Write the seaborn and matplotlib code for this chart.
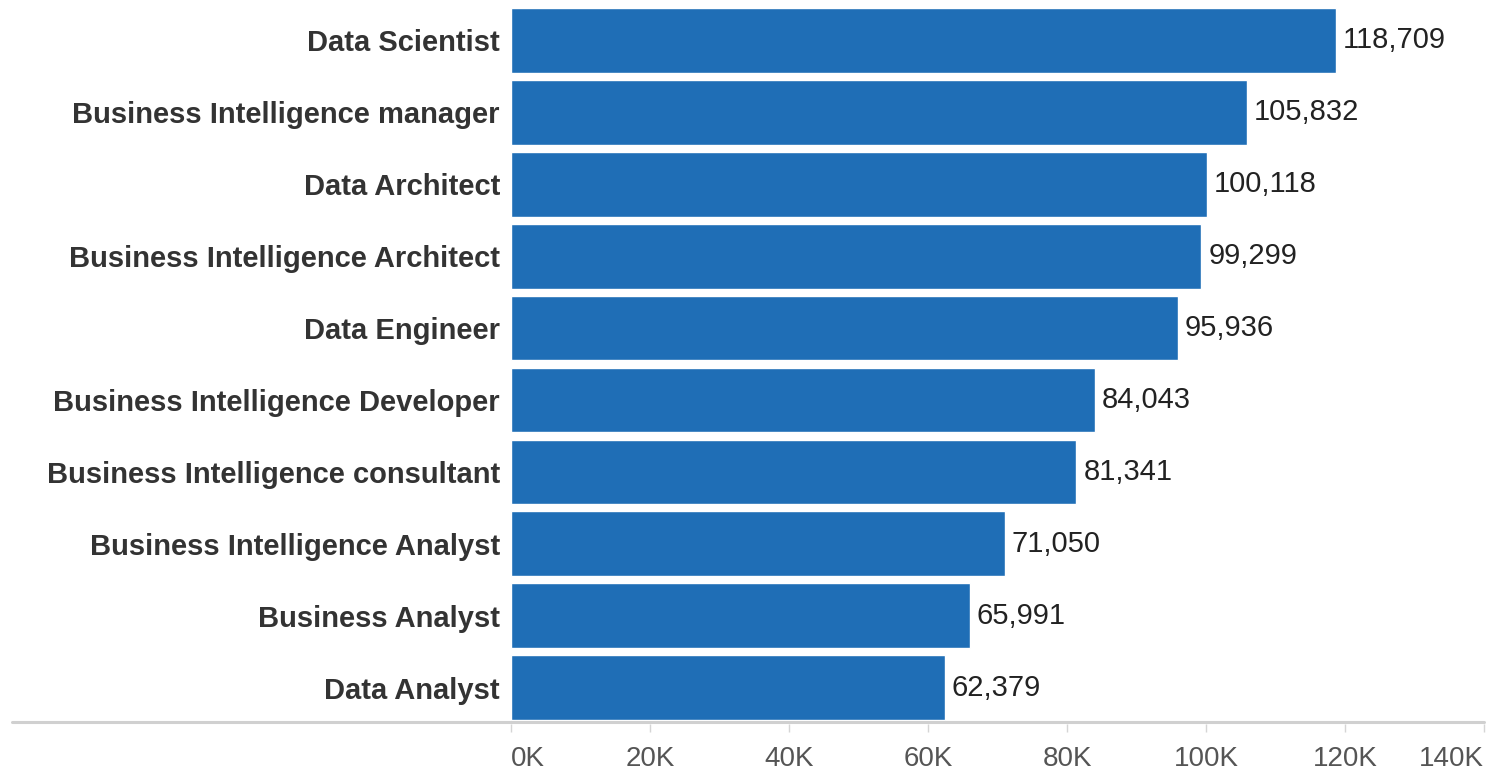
import matplotlib
matplotlib.use("Agg")
import matplotlib.pyplot as plt
import seaborn as sns
import pandas as pd
from matplotlib.lines import Line2D

# data
roles = ["Data Scientist", "Business Intelligence manager", "Data Architect",
         "Business Intelligence Architect", "Data Engineer",
         "Business Intelligence Developer", "Business Intelligence consultant",
         "Business Intelligence Analyst", "Business Analyst", "Data Analyst"]
salaries = [118709, 105832, 100118, 99299, 95936, 84043, 81341, 71050, 65991, 62379]
tick_values = [0, 20000, 40000, 60000, 80000, 100000, 120000, 140000]
tick_labels = ["0K", "20K", "40K", "60K", "80K", "100K", "120K", "140K"]

df = pd.DataFrame({"role": roles, "salary": salaries})

sns.set_style("white")
plt.rcParams['font.family'] = ['Liberation Sans', 'DejaVu Sans']

fig = plt.figure(figsize=(15.03, 7.75), dpi=100)
ax = fig.add_axes([0.34, 0.0663, 0.6474, 0.928])

sns.barplot(data=df, x="salary", y="role", color="#1f6eb6", saturation=1,
            width=0.9, ax=ax)

# value labels at bar ends
for i, v in enumerate(salaries):
    ax.text(v + 1000, i, f"{v:,}", va="center", ha="left", fontsize=21, color="#222222")

ax.set_xlim(0, 140000)
ax.set_xticks(tick_values)
ax.set_xticklabels(tick_labels, fontsize=20, color="#555555")
ax.tick_params(axis="x", bottom=True, length=6, width=1, color="#d5d5d5", pad=10, direction="out")
ax.tick_params(axis="y", length=0, pad=8)
# edge labels kept inside the axis span
xt = ax.get_xticklabels()
xt[0].set_horizontalalignment("left")
xt[-1].set_horizontalalignment("right")
for lbl in ax.get_yticklabels():
    lbl.set_fontsize(21)
    lbl.set_fontweight("bold")
    lbl.set_color("#333333")
ax.set_xlabel("")
ax.set_ylabel("")
for s in ax.spines.values():
    s.set_visible(False)

# long grey baseline reaching into label area
y_base = 1 - 722 / 775
fig.add_artist(Line2D([12 / 1503, 1484 / 1503], [y_base, y_base],
                      color="#d0d0d0", lw=2.2, transform=fig.transFigure))

fig.savefig("out.png", dpi=100)
